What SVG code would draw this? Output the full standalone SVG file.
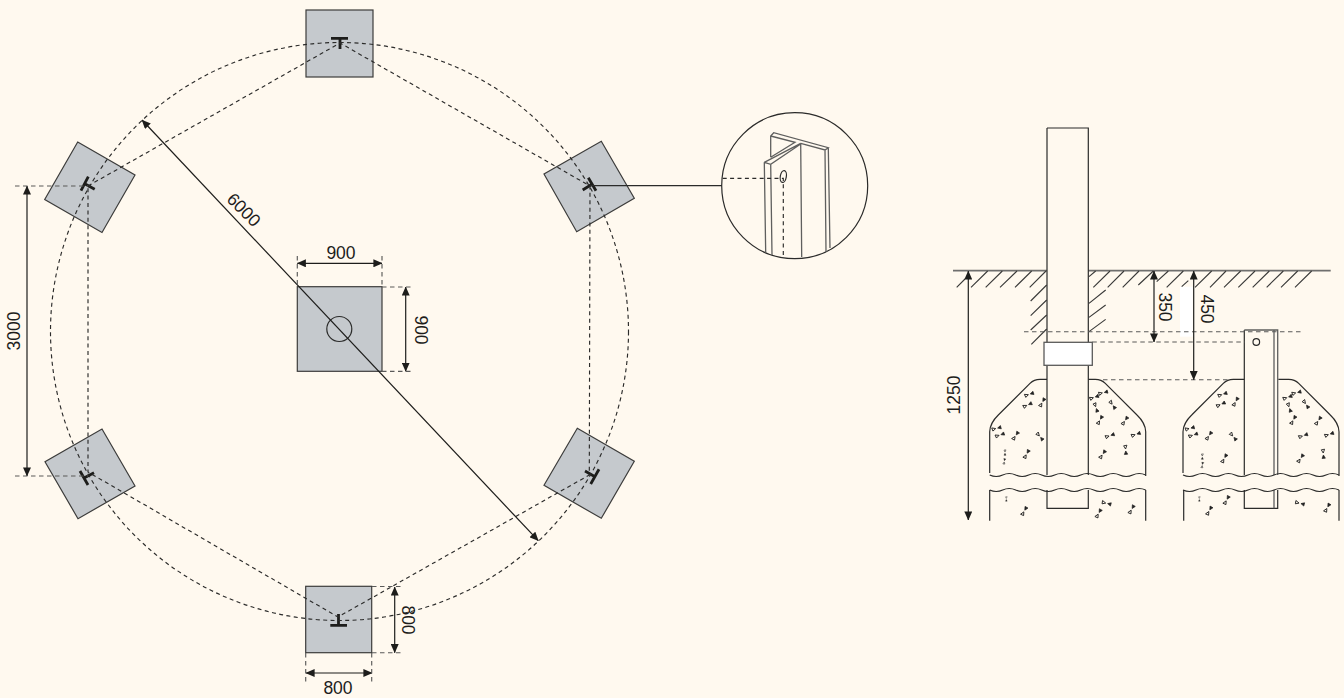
<svg xmlns="http://www.w3.org/2000/svg" xmlns:xlink="http://www.w3.org/1999/xlink" width="1344" height="698" viewBox="0 0 1344 698">
<style>
.sq{fill:#c5c9cd;stroke:#3c3c3b;stroke-width:1.2}
.ln{fill:none;stroke:#2b2b2a;stroke-width:1.2}
.gr{fill:none;stroke:#5f5f5e;stroke-width:1.3}
.da{fill:none;stroke:#2b2b2a;stroke-width:1.15;stroke-dasharray:4 3.4}
.dg{fill:none;stroke:#5a5a59;stroke-width:1.15;stroke-dasharray:4.5 3.5}
.dm{fill:none;stroke:#1d1d1b;stroke-width:1.2;marker-start:url(#ar);marker-end:url(#ar)}
.tb{fill:none;stroke:#1d1d1b;stroke-width:2.8}
.tx{font-family:"Liberation Sans",Arial,sans-serif;font-size:17.5px;fill:#1d1d1b;text-anchor:middle}
.ha{fill:none;stroke:#3a3a39;stroke-width:3.4}
</style>
<defs>
<marker id="ar" viewBox="0 0 9 8" refX="8.6" refY="4" markerUnits="userSpaceOnUse" markerWidth="9" markerHeight="8" orient="auto-start-reverse"><path d="M0 0L9 4L0 8Z" fill="#1d1d1b"/></marker>
<g id="ag"><path d="M-14 -5L-3 0L-13 5Z" fill="none" stroke="#222" stroke-width="2.6"/><path d="M13 -5L3 0L13 5Z" fill="#222" stroke="#222" stroke-width="2"/></g>
<path id="wv" d="M0 0q6.5 3 13 0t13 0t13 0t13 0t13 0t13 0t13 0t13 0t13 0t13 0t13 0t13 0" fill="none" stroke="#2b2b2a" stroke-width="1.1"/>
</defs>
<rect width="1344" height="698" fill="#fff9ef"/>

<g id="pad-top"><rect class="sq" x="306" y="10" width="67" height="67"/><path class="tb" d="M331 38.3H348M340 38.3V49"/></g>
<g id="pad-upper-left"><path class="sq" d="M77.7 142L135 175L102 232.5L44.7 199.5Z"/><path class="tb" d="M88.3 176.7L81 190.7M84.7 183.7L94.7 189.3"/></g>
<g id="pad-upper-right"><path class="sq" d="M601.3 141.3L634.3 198.3L576.7 231.7L544 174Z"/><path class="tb" d="M588.3 177.7L596 190.7M592.3 184L582.7 190"/></g>
<g id="pad-lower-left"><path class="sq" d="M102 429L135 486L78 518.7L45 461.7Z"/><path class="tb" d="M80 471L88 485M84 478L94 472.7"/></g>
<g id="pad-lower-right"><path class="sq" d="M577.3 428.3L634.3 461.3L601.3 518.3L544 485.3Z"/><path class="tb" d="M599 469.3L590.7 484M595 476.7L585 471"/></g>
<g id="pad-bottom"><rect class="sq" x="305.7" y="586.3" width="66" height="66.4"/><path class="tb" d="M330.3 625.3H347M338.5 614V625.3"/></g>
<g id="pad-centre"><rect class="sq" x="297.3" y="286.7" width="84.7" height="84.6"/><circle class="ln" cx="339.3" cy="329" r="12.5"/></g>

<g id="connectors">
<circle class="da" cx="339.5" cy="331.5" r="289"/>
<path class="da" d="M88 186L340 43L590 186L589.3 475L338 617L88 472Z"/>
<path class="dm" d="M142 120L538.3 540.7"/>
<path class="ln" d="M590 185.7H722"/>
<path class="dm" d="M297.3 263.3H382"/>
<path class="dg" d="M297.3 256V287M382 256V287"/>
<path class="dm" d="M405.7 287V371.3"/>
<path class="dg" d="M382 287H413M382 371.3H413"/>
<path class="dm" d="M27 186V476"/>
<path class="dg" d="M15 186H88M15 476H88"/>
<path class="dm" d="M306 673H372"/>
<path class="dg" d="M305.7 653V683M371.7 653V683"/>
<path class="dm" d="M394.7 587V652.7"/>
<path class="dg" d="M372 586.5H402M372 652.7H402"/>
</g>

<g id="detail-lens">
<circle class="ln" cx="794.7" cy="185.7" r="73"/>
<path class="gr" d="M764.3 162.3L765.7 252.7M770.7 164.3L772 255M764.3 162.3L770.7 164.3L800.7 144M764.3 162.3L800.7 143.3M770.7 157.3V136L773.7 132.7L828.3 147.7L825 150L800.7 143.3M770.7 157.3L795 142.3L770.7 136M800.7 144L801.7 257M825 150L826 252M828.3 147.7L830 248"/>
<ellipse class="ln" cx="783.3" cy="176.5" rx="3" ry="6" transform="rotate(10 783.3 176.5)"/>
<path class="da" d="M722.7 178.3H783.3V257"/>
</g>

<rect id="label-patch" x="1180" y="286.7" width="12.7" height="50" fill="#fff"/>

<g id="ground">
<path d="M953 270.7H1047M1088.3 270.7H1330.7" fill="none" stroke="#6f6f6e" stroke-width="1.7"/>
<g transform="translate(940 260) scale(.33333)">
<path class="ha" d="M50 82L75 57M93 82L143 33M137 82L187 33M180 82L231 33M225 82L275 33M269 82L318 33M447 50L467 33M460 82L510 33M503 82L552 33M548 82L597 33M272 123L320 75M272 167L320 120M272 210L320 165M274 253L320 207M447 130L497 90M447 172L497 135M447 215L497 178"/>
</g>
<g transform="translate(1140 260) scale(.33333)">
<path class="ha" d="M-5 75L40 33M50 65L85 33M80 82L130 33M125 80L145 62M165 82L215 33M210 82L258 33M252 82L302 33M295 82L345 33M338 82L388 33M380 82L430 33M423 82L473 33M465 82L515 33"/>
</g>
</g>

<g id="section-set-post">
<path class="ln" d="M989.7 473V431.7Q990 423 998.3 415L1030 383.3Q1034 379.3 1040 379.3H1047M1145.7 476V431.7Q1145.4 423 1137 415L1105.3 383.3Q1101.3 379.3 1095.3 379.3H1088.3"/>
<path class="ln" d="M1047 128H1088.3V475M1047 128V475M1047 490V508.3H1088.3V490M989.7 490V520.7M1145.7 490V520.7"/>
<use href="#wv" x="989.7" y="475"/><use href="#wv" x="989.7" y="490"/>
<rect x="1044" y="342.3" width="48.3" height="23" fill="#fff" stroke="#5a5a59" stroke-width="1.3"/>
<g transform="translate(940 260) scale(.33333)">
<use href="#ag" transform="translate(268 403) rotate(-20)"/><use href="#ag" transform="translate(263 435) rotate(-25)"/><use href="#ag" transform="translate(307 427) rotate(-60)"/><use href="#ag" transform="translate(463 412) rotate(-20)"/><use href="#ag" transform="translate(490 398) rotate(-15)"/><use href="#ag" transform="translate(468 443) rotate(70)"/><use href="#ag" transform="translate(518 435) rotate(55)"/><use href="#ag" transform="translate(480 480) rotate(-60)"/><use href="#ag" transform="translate(555 482) rotate(-55)"/><use href="#ag" transform="translate(170 505) rotate(-15)"/><use href="#ag" transform="translate(180 525) rotate(-20)"/><use href="#ag" transform="translate(227 527) rotate(-55)"/><use href="#ag" transform="translate(300 530) rotate(50)"/><use href="#ag" transform="translate(510 527) rotate(-20)"/><use href="#ag" transform="translate(588 523) rotate(-20)"/><use href="#ag" transform="translate(195 578) rotate(90) scale(.6)"/><use href="#ag" transform="translate(193 604) rotate(-80) scale(.6)"/><use href="#ag" transform="translate(260 582) rotate(-60)"/><use href="#ag" transform="translate(488 583) rotate(-55)"/><use href="#ag" transform="translate(557 570) rotate(85)"/><use href="#ag" transform="translate(199 717) rotate(90) scale(.5)"/><use href="#ag" transform="translate(253 753) rotate(-60)"/><use href="#ag" transform="translate(500 730) rotate(15)"/><use href="#ag" transform="translate(476 760) rotate(-60)"/><use href="#ag" transform="translate(575 748) rotate(-60)"/>
</g>
</g>

<g id="section-base-post">
<path class="ln" d="M1183 473V431.7Q1183.3 423 1191.7 415L1223.3 383.3Q1227.3 379.3 1233.3 379.3H1244.3M1339 476V431.7Q1338.7 423 1330.3 415L1298.7 383.3Q1294.7 379.3 1288.7 379.3H1278.3M1183.7 490V520.7M1339 490V520.7"/>
<path class="ln" d="M1244.3 475V330M1244.3 490V508.3H1277.7V490"/>
<path class="gr" d="M1244.3 330H1277.7V475M1274 330V475M1274 490V508.3"/>
<circle class="ln" cx="1256.3" cy="342" r="3.3"/>
<use href="#wv" x="1183" y="475"/><use href="#wv" x="1183" y="490"/>
<g transform="translate(1140 260) scale(.33333)">
<use href="#ag" transform="translate(248 403) rotate(-20)"/><use href="#ag" transform="translate(243 433) rotate(-25)"/><use href="#ag" transform="translate(287 425) rotate(-60)"/><use href="#ag" transform="translate(443 412) rotate(-20)"/><use href="#ag" transform="translate(470 398) rotate(-15)"/><use href="#ag" transform="translate(448 443) rotate(70)"/><use href="#ag" transform="translate(498 433) rotate(55)"/><use href="#ag" transform="translate(460 480) rotate(-60)"/><use href="#ag" transform="translate(535 482) rotate(-55)"/><use href="#ag" transform="translate(150 505) rotate(-15)"/><use href="#ag" transform="translate(160 525) rotate(-20)"/><use href="#ag" transform="translate(207 527) rotate(-55)"/><use href="#ag" transform="translate(280 530) rotate(50)"/><use href="#ag" transform="translate(490 527) rotate(-20)"/><use href="#ag" transform="translate(568 523) rotate(-20)"/><use href="#ag" transform="translate(187 590) rotate(90) scale(.6)"/><use href="#ag" transform="translate(187 615) rotate(-80) scale(.6)"/><use href="#ag" transform="translate(253 595) rotate(-60)"/><use href="#ag" transform="translate(482 595) rotate(-55)"/><use href="#ag" transform="translate(550 582) rotate(85)"/><use href="#ag" transform="translate(178 717) rotate(90) scale(.5)"/><use href="#ag" transform="translate(260 720) rotate(-60)"/><use href="#ag" transform="translate(208 752) rotate(-60)"/><use href="#ag" transform="translate(480 730) rotate(15)"/><use href="#ag" transform="translate(562 743) rotate(-60)"/>
</g>
</g>

<g id="section-connectors">
<path class="dg" d="M1024 331.7H1303M1092.3 342H1245M1103 379.7H1230"/>
<path class="dm" d="M968.3 271V520"/>
<path class="dm" d="M1154 271V342"/>
<path class="dm" d="M1193.7 271V379.7"/>
</g>

<g id="labels">
<text class="tx" x="341" y="259">900</text>
<text class="tx" transform="translate(415 330) rotate(90)">900</text>
<text class="tx" transform="translate(20 331) rotate(-90)">3000</text>
<text class="tx" transform="translate(239.5 214) rotate(45)">6000</text>
<text class="tx" x="338" y="693.5">800</text>
<text class="tx" transform="translate(402 620) rotate(90)">800</text>
<text class="tx" transform="translate(960 395) rotate(-90)">1250</text>
<text class="tx" transform="translate(1158.5 307) rotate(90)">350</text>
<text class="tx" transform="translate(1200.5 309) rotate(90)">450</text>
</g>
</svg>
